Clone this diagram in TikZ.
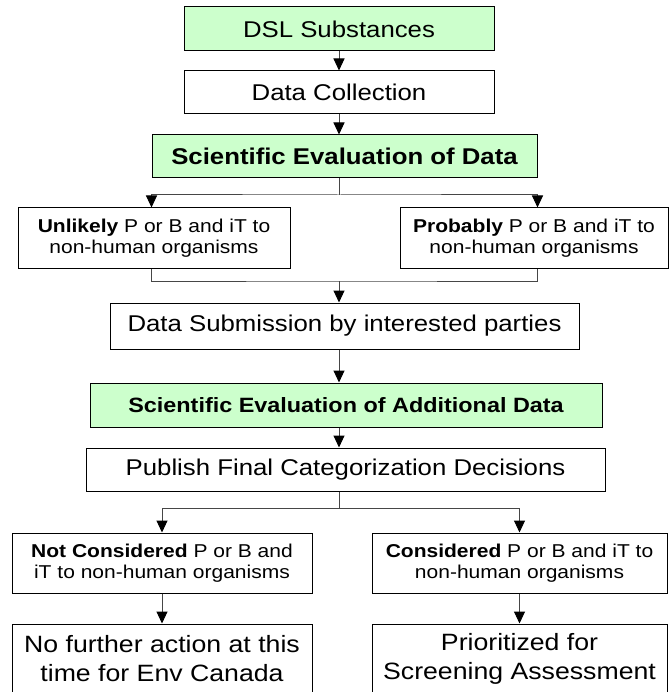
\documentclass[tikz,border=0pt]{standalone}
\usepackage{fontspec}
\setmainfont[FakeStretch=1.13]{Liberation Sans}
\usetikzlibrary{arrows.meta}

\definecolor{boxgreen}{RGB}{204,255,204}
\definecolor{linegray}{RGB}{70,70,70}

\newcommand\fontmain{\fontsize{22.8}{27}\selectfont}
\newcommand\fontadd{\fontsize{20.7}{25}\selectfont}
\newcommand\fontnote{\fontsize{18.6}{21.5}\selectfont}
\newcommand\fontlast{\fontsize{23.6}{29}\selectfont}

\tikzset{
  box/.style={draw=black, line width=1pt, fill=white, inner sep=0pt, align=center},
  greenbox/.style={box, fill=boxgreen},
  conn/.style={draw=linegray, line width=1pt},
  arrow/.style={conn, -{Triangle[width=11pt,length=12pt,color=black]}},
  twoway/.style={conn, {Triangle[width=11pt,length=12pt,color=black]}-{Triangle[width=11pt,length=12pt,color=black]}}
}

\begin{document}
\begin{tikzpicture}[x=1pt,y=-1pt]
    \useasboundingbox (0,0) rectangle (668,692);
    % main column
    \node[greenbox,minimum width=310pt,minimum height=44pt,font=\fontmain] (dsl) at (339,29) {DSL Substances};
    \node[box,minimum width=310pt,minimum height=43pt,font=\fontmain] (collect) at (339,92.5) {Data Collection};
    \node[greenbox,minimum width=385pt,minimum height=43pt,font=\fontmain\bfseries] (evaldata) at (344.5,156.5) {Scientific Evaluation of Data};
    \node[box,minimum width=272pt,minimum height=60pt,font=\fontnote] (unlikely) at (154,238) {\textbf{Unlikely} P or B and iT to\\non-human organisms};
    \node[box,minimum width=268pt,minimum height=60pt,font=\fontnote] (probably) at (534,238) {\textbf{Probably} P or B and iT to\\non-human organisms};
    \node[box,minimum width=469pt,minimum height=46pt,font=\fontmain] (submit) at (344.5,326) {Data Submission by interested parties};
    \node[greenbox,minimum width=512pt,minimum height=44pt,font=\fontadd\bfseries] (evaladd) at (346,405) {Scientific Evaluation of Additional Data};
    \node[box,minimum width=519pt,minimum height=43pt,font=\fontmain] (publish) at (345.5,469.5) {Publish Final Categorization Decisions};
    \node[box,minimum width=300pt,minimum height=60pt,font=\fontnote] (notcons) at (162,563) {\textbf{Not Considered} P or B and\\iT to non-human organisms};
    \node[box,minimum width=295pt,minimum height=60pt,font=\fontnote] (cons) at (519.5,563) {\textbf{Considered} P or B and iT to\\non-human organisms};
    \node[box,minimum width=300pt,minimum height=70pt,font=\fontlast] (noaction) at (162,659) {No further action at this\\time for Env Canada};
    \node[box,minimum width=295pt,minimum height=70pt,font=\fontlast] (prior) at (519.5,659) {Prioritized for\\Screening Assessment};

    \coordinate (fork) at (339,195);
    \coordinate (merge) at (339,281);
    \coordinate (split) at (339,508);

    % connectors
    \draw[arrow] (dsl) -- (collect);
    \draw[arrow] (collect.south -| dsl) -- (evaldata.north -| dsl);
    \draw[conn] (evaldata.south -| fork) -- (fork);
    \draw[twoway] (unlikely.north -| evaldata.west) |- (fork) -| (probably.north -| evaldata.east);
    \draw[conn] (unlikely.south -| evaldata.west) |- (merge) -| (probably.south -| evaldata.east);
    \draw[arrow] (merge) -- (submit.north -| merge);
    \draw[arrow] (submit.south -| dsl) -- (evaladd.north -| dsl);
    \draw[arrow] (evaladd.south -| dsl) -- (publish.north -| dsl);
    \draw[conn] (publish.south -| split) -- (split);
    \draw[arrow] (split) -| (notcons.north);
    \draw[arrow] (split) -| (cons.north);
    \draw[arrow] (notcons) -- (noaction);
    \draw[arrow] (cons) -- (prior);
\end{tikzpicture}
\end{document}
